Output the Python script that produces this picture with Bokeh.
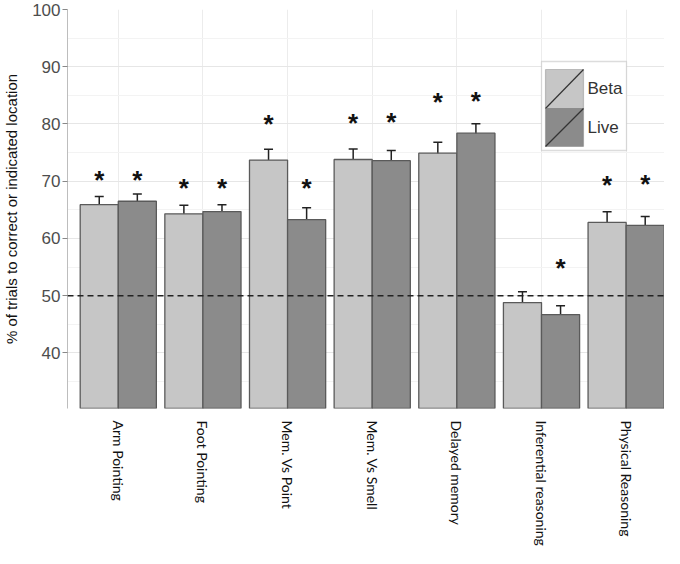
import math
from bokeh.plotting import figure
from bokeh.models import (ColumnDataSource, Range1d, FixedTicker, Span, Whisker, TeeHead,
                          BoxAnnotation, Arrow, Label)
from bokeh.core.properties import value
from bokeh.embed import file_html
from bokeh.resources import INLINE

# ---- data ----
categories = ["Arm Pointing", "Foot Pointing", "Mem. Vs Point", "Mem. Vs Smell",
              "Delayed memory", "Inferential reasoning", "Physical Reasoning"]
beta_mean = [65.9, 64.3, 73.7, 73.8, 74.9, 48.8, 62.8]
beta_se = [1.45, 1.5, 1.9, 1.85, 1.9, 1.9, 1.85]
live_mean = [66.5, 64.7, 63.3, 73.6, 78.4, 46.7, 62.3]
live_se = [1.25, 1.2, 2.05, 1.75, 1.65, 1.55, 1.55]
beta_star_y = [70.8, 69.4, 80.5, 80.7, 84.4, None, 69.9]
live_star_y = [70.8, 69.4, 69.4, 80.8, 84.6, 55.3, 70.0]
series = ["Beta", "Live"]
chance_level = 50
y_ticks = [40, 50, 60, 70, 80, 90, 100]

BETA_FILL = "#c6c6c6"
LIVE_FILL = "#8b8b8b"
OUTLINE = "#5a5a5a"

pos = list(range(1, len(categories) + 1))
dodge = 0.225
bar_w = 0.45

p = figure(width=664, height=548, output_backend="svg", toolbar_location=None,
           x_range=Range1d(0.4, 7.453), y_range=Range1d(30.3, 100),
           min_border_left=0, min_border_right=0, min_border_top=9,
           min_border_bottom=136)
p.outline_line_color = None
p.background_fill_color = "white"

# grids
p.xgrid.ticker = FixedTicker(ticks=pos)
p.xgrid.grid_line_color = "#ececec"
p.ygrid.ticker = FixedTicker(ticks=y_ticks, minor_ticks=[35, 45, 55, 65, 75, 85, 95])
p.ygrid.grid_line_color = "#e6e6e6"
p.ygrid.minor_grid_line_color = "#f3f3f3"

# bars
for means, ses, offset, fill in [(beta_mean, beta_se, -dodge, BETA_FILL),
                                 (live_mean, live_se, dodge, LIVE_FILL)]:
    xs = [k + offset for k in pos]
    src = ColumnDataSource(dict(x=xs, top=means,
                                lower=[m - s for m, s in zip(means, ses)],
                                upper=[m + s for m, s in zip(means, ses)]))
    p.vbar(x="x", top="top", bottom=0, width=bar_w, source=src,
           fill_color=fill, line_color=OUTLINE, line_width=1.3)
    w = Whisker(base="x", lower="lower", upper="upper", source=src,
                line_color="#222222", line_width=1.5,
                upper_head=TeeHead(size=9, line_color="#222222", line_width=1.5),
                lower_head=TeeHead(size=9, line_color="#222222", line_width=1.5))
    p.add_layout(w)

# chance line
p.add_layout(Span(location=chance_level, dimension="width", line_color="#222222",
                  line_dash="6 4", line_width=1.5))

# significance stars
sx, sy = [], []
for k, yb, yl in zip(pos, beta_star_y, live_star_y):
    if yb is not None:
        sx.append(k - dodge); sy.append(yb)
    if yl is not None:
        sx.append(k + dodge); sy.append(yl)
p.text(x=sx, y=sy, text=["*"] * len(sx), text_align="center",
       text_baseline="alphabetic", y_offset=3, text_font=value("Liberation Sans"),
       text_font_size="26px", text_font_style="bold", text_color="#111111")

# y axis
p.yaxis.ticker = FixedTicker(ticks=y_ticks)
p.yaxis.axis_label = "% of trials to correct or indicated location"
p.yaxis.axis_label_text_font = "Liberation Sans"
p.yaxis.axis_label_text_font_size = "15px"
p.yaxis.axis_label_text_font_style = "normal"
p.yaxis.axis_label_text_color = "#111111"
p.yaxis.axis_label_standoff = 9
p.yaxis.major_label_text_font = "Liberation Sans"
p.yaxis.major_label_text_font_size = "17px"
p.yaxis.major_label_text_color = "#4d4d4d"
p.yaxis.major_label_standoff = 2
p.yaxis.major_tick_in = 0
p.yaxis.major_tick_out = 5
p.yaxis.major_tick_line_color = "#888888"
p.yaxis.minor_tick_line_color = None
p.yaxis.axis_line_color = "#bdbdbd"

# x axis: vertical category labels
p.xaxis.ticker = FixedTicker(ticks=pos)
p.xaxis.major_label_overrides = {k: c for k, c in zip(pos, categories)}
p.xaxis.major_label_orientation = -math.pi / 2
p.xaxis.major_label_text_font = "Lato"
p.xaxis.major_label_text_font_size = "14px"
p.xaxis.major_label_text_color = "#111111"
p.xaxis.major_label_standoff = 12
p.xaxis.major_tick_in = 0
p.xaxis.major_tick_out = 0
p.xaxis.major_tick_line_color = None
p.xaxis.minor_tick_line_color = None
p.xaxis.axis_line_color = None

# legend (screen units, relative to the plot frame)
scr = dict(left_units="screen", right_units="screen", bottom_units="screen", top_units="screen")
p.add_layout(BoxAnnotation(left=474, right=559, bottom=258, top=347, fill_color="white",
                           fill_alpha=1.0, line_color="#8a8a8a", line_width=1.3, **scr))
for (b, t, fill, name, ly) in [(300, 339, BETA_FILL, series[0], 320),
                               (262, 300, LIVE_FILL, series[1], 281)]:
    p.add_layout(BoxAnnotation(left=478, right=516, bottom=b, top=t, fill_color=fill,
                               fill_alpha=1.0, line_color=OUTLINE, line_width=1.2, **scr))
    p.add_layout(Arrow(x_start=478, y_start=b, x_end=516, y_end=t, start_units="screen",
                       end_units="screen", start=None, end=None, line_color="#333333",
                       line_width=1.2))
    p.add_layout(Label(x=520, y=ly, x_units="screen", y_units="screen", text=name,
                       text_baseline="middle", text_font="Liberation Sans",
                       text_font_size="17px", text_color="#333333"))

open("out.html", "w").write(file_html(p, INLINE))
